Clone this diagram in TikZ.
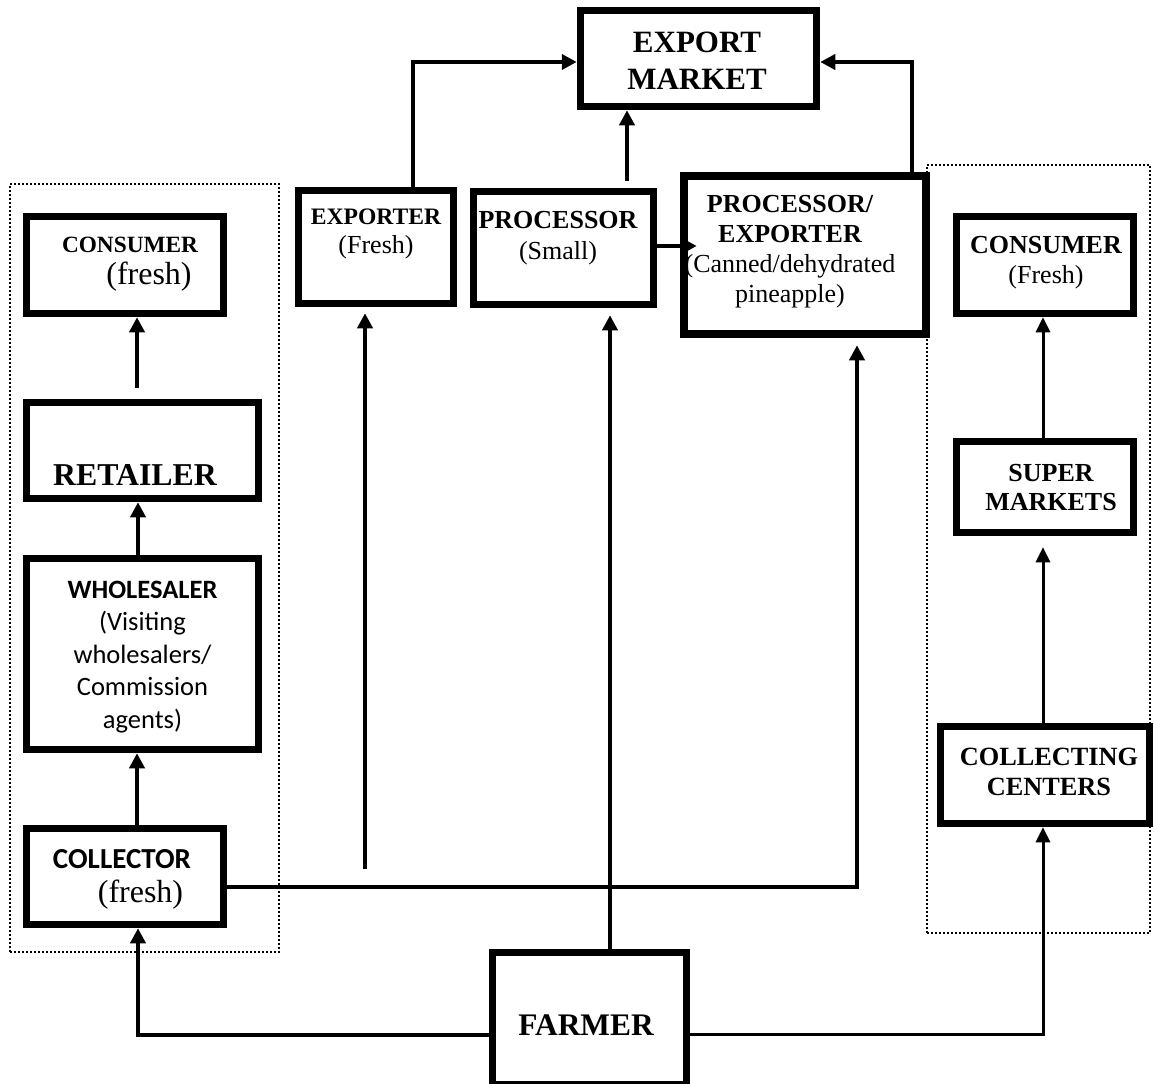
\documentclass[tikz,border=0pt]{standalone}
\usepackage{fontspec}
\setmainfont{Liberation Serif}
\newfontfamily\calfont{Carlito}
\usetikzlibrary{arrows.meta}
\newcommand\setfs[2]{\fontsize{#1}{#2}\selectfont}

\begin{document}
\begin{tikzpicture}[x=1pt,y=-1pt,
  box/.style={draw, line width=7.5pt, fill=white, rectangle, inner sep=0pt},
  bigbox/.style={box, line width=8.5pt},
  txt/.style={align=center, inner sep=0pt},
  group/.style={draw, line width=1.7pt, dash pattern=on 1.7pt off 2.3pt, rectangle, inner sep=0pt},
  arrow/.style={line width=4pt, -{Triangle[length=15pt,width=15pt]}},
  thinarrow/.style={line width=3pt, -{Triangle[length=15pt,width=14pt]}},
]
\useasboundingbox (0,0) rectangle (1154,1084);

% dotted frames around the domestic chains
\node[group, minimum width=269pt, minimum height=768pt] (leftgroup) at (144.5,568) {};
\node[group, minimum width=223pt, minimum height=768pt] (rightgroup) at (1038.5,549) {};

% boxes
\node[box, minimum width=236pt, minimum height=96pt] (export) at (698.5,58.5) {};
\node[box, minimum width=155pt, minimum height=113pt] (exporter) at (376,247) {};
\node[box, minimum width=180pt, minimum height=113pt] (processor) at (563.5,248) {};
\node[bigbox, minimum width=242pt, minimum height=158pt] (pe) at (805,255) {};
\node[box, minimum width=197pt, minimum height=97pt] (consumerL) at (125,265) {};
\node[box, minimum width=232pt, minimum height=96pt] (retailer) at (142.5,450.5) {};
\node[box, minimum width=232pt, minimum height=191pt] (wholesaler) at (142.5,654) {};
\node[box, minimum width=197pt, minimum height=96pt] (collector) at (125,876.5) {};
\node[box, minimum width=177pt, minimum height=97pt] (consumerR) at (1045,265) {};
\node[box, minimum width=177pt, minimum height=91pt] (supermarkets) at (1045,487) {};
\node[box, minimum width=209pt, minimum height=97pt] (collecting) at (1045,775) {};
\node[box, minimum width=194pt, minimum height=132pt] (farmer) at (589.5,1018.5) {};

% box texts
\node[txt, font=\setfs{31}{37}\bfseries] (exportT) at (697,61) {EXPORT\\MARKET};
\node[txt, font=\setfs{26}{29}] (exporterT) at (376,234) {{\setfs{23.6}{29}\bfseries EXPORTER}\\(Fresh)};
\node[txt, font=\setfs{26}{31}] (processorT) at (558,238) {{\bfseries PROCESSOR}\\(Small)};
\node[txt, font=\setfs{26}{30}] (peT) at (790,252) {{\bfseries PROCESSOR/}\\{\bfseries EXPORTER}\\(Canned/dehydrated\\pineapple)};
\node[txt, font=\setfs{32}{32}] (consumerLT) at (130,264) {{\setfs{23.3}{32}\bfseries CONSUMER}\\\hspace*{38pt}(fresh)};
\node[txt, font=\setfs{31.8}{38}\bfseries] (retailerT) at (135,475) {RETAILER};
\node[txt, font=\calfont\setfs{26.5}{32.5}] (wholesalerT) at (142.5,657) {{\bfseries WHOLESALER}\\(Visiting\\wholesalers/\\Commission\\agents)};
\node[txt, font=\setfs{32}{34}] (collectorT) at (122,879) {{\calfont\setfs{29}{34}\bfseries COLLECTOR}\\\hspace*{37pt}(fresh)};
\node[txt, font=\setfs{26}{30}] (consumerRT) at (1046,263) {{\bfseries CONSUMER}\\(Fresh)};
\node[txt, font=\setfs{26}{29}\bfseries] (supermarketsT) at (1051,487.5) {SUPER\\MARKETS};
\node[txt, font=\setfs{26.3}{30}\bfseries] (collectingT) at (1049,772) {COLLECTING\\CENTERS};
\node[txt, font=\setfs{31.4}{38}\bfseries] (farmerT) at (586,1025) {FARMER};

% export flows
\draw[arrow] ([xshift=37pt]exporter.north) |- ([yshift=-3.5pt]export.west);
\draw[arrow] ([xshift=63.5pt,yshift=7pt]processor.north) -- ([xshift=63.5pt]processor.north |- export.south);
\draw[arrow] ([xshift=107pt]pe.north) |- ([yshift=-3.5pt]export.east);
\draw[arrow, shorten >=-17pt] ([yshift=2pt]processor.east) -- ([yshift=2pt]pe.west |- processor.east);

% flows out of the farm
\coordinate (freefoot) at (365,869);
\draw[arrow, shorten >=6pt] (freefoot) -- (freefoot |- exporter.south);
\draw[arrow, shorten >=7pt] ([xshift=20.5pt]farmer.north) -- ([xshift=20.5pt]farmer.north |- processor.south);
\draw[arrow, shorten >=7pt] ([yshift=-10.5pt]collector.east) -| ([xshift=52pt]pe.south);
\draw[arrow] ([yshift=-16.5pt]farmer.west) -| ([xshift=13pt]collector.south);
\draw[thinarrow] ([yshift=-15.5pt]farmer.east) -| ([xshift=-2pt]collecting.south);

% left chain
\draw[arrow] ([xshift=12pt]collector.north) -- ([xshift=12pt]collector.north |- wholesaler.south);
\draw[arrow] ([xshift=-4.5pt]wholesaler.north) -- ([xshift=-4.5pt]retailer.south);
\draw[arrow, shorten <=11pt] ([xshift=12pt]consumerL.south |- retailer.north) -- ([xshift=12pt]consumerL.south);

% right chain
\draw[thinarrow, shorten >=11pt] ([xshift=-2pt]collecting.north) -- ([xshift=-2pt]collecting.north |- supermarkets.south);
\draw[thinarrow] ([xshift=-2pt]supermarkets.north) -- ([xshift=-2pt]consumerR.south);
\end{tikzpicture}
\end{document}
